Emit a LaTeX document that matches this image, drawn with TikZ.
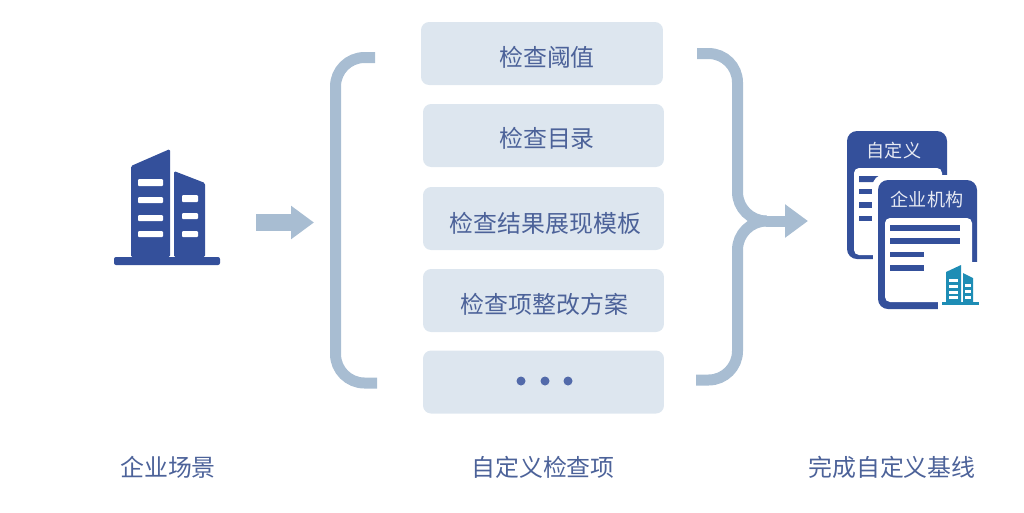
\documentclass[tikz,border=0pt]{standalone}
\usepackage{fontspec}
\setmainfont{Noto Sans CJK SC}
\usepackage{xcolor}
\usetikzlibrary{arrows.meta}
\definecolor{iconblue}{HTML}{34509B}
\definecolor{labelblue}{HTML}{4C6299}
\definecolor{boxblue}{HTML}{DDE6EF}
\definecolor{flowblue}{HTML}{A8BDD2}
\definecolor{tealblue}{HTML}{1E8DB5}
\tikzset{
    itembox/.style={draw=none,fill=boxblue,rounded corners=0.16cm,minimum width=4.84cm,minimum height=1.26cm,
        inner sep=0pt,text=labelblue,font=\fontsize{13.6}{16}\selectfont},
    caption/.style={inner sep=0pt,text=labelblue,font=\fontsize{13.6}{16}\selectfont},
    tabtext/.style={inner sep=0pt,text=white!88!iconblue,font=\fontsize{10.3}{12}\selectfont},
    dotmark/.style={circle,fill=iconblue!85!white,draw=none,minimum size=0.18cm,inner sep=0pt},
    flow/.style={draw=flowblue,line width=0.22cm,rounded corners=0.58cm},
    flowhead/.style={-{Triangle[length=0.46cm,width=0.64cm]}},
}
\newcommand{\itemtext}[3]{\hspace*{#1}\raisebox{#2}[\height][\depth]{#3}}
\begin{document}
\begin{tikzpicture}[x=0.02cm,y=-0.02cm]
    \useasboundingbox (0,0) rectangle (1024,512);

    % items
    \node [itembox,minimum width=4.84cm] (item1) at (542,53.5) {\itemtext{0.2cm}{-0.08cm}{检查阈值}};
    \node [itembox,minimum width=4.82cm] (item2) at (543.5,135.5) {\itemtext{0.14cm}{-0.06cm}{检查目录}};
    \node [itembox,minimum width=4.82cm] (item3) at (543.5,218.5) {\itemtext{0.08cm}{-0.1cm}{检查结果展现模板}};
    \node [itembox,minimum width=4.82cm] (item4) at (543.5,300.5) {\itemtext{0.04cm}{-0.08cm}{检查项整改方案}};
    \node [itembox,minimum width=4.82cm] (item5) at (543.5,382) {};
    \node [dotmark] (dot1) at (521,381) {};
    \node [dotmark] (dot2) at (545,381) {};
    \node [dotmark] (dot3) at (568,381) {};

    % captions
    \node [caption] (scene) at (168,467) {企业场景};
    \node [caption] (custom) at (543,467) {自定义检查项};
    \node [caption] (baseline) at (892,467) {完成自定义基线};

    % flow
    \coordinate (in1) at (256,222.5);
    \coordinate (in2) at (314,222.5);
    \draw [flowhead,draw=flowblue,fill=flowblue,line width=0.34cm] (in1) -- (in2);

    \coordinate (open1) at (375,57.5);
    \coordinate (open2) at (335.5,57.5);
    \coordinate (open3) at (335.5,383);
    \coordinate (open4) at (377,383);
    \draw [flow] (open1) -- (open2) -- (open3) -- (open4);

    \coordinate (close1) at (697,53.5);
    \coordinate (close2) at (737.5,53.5);
    \coordinate (close3) at (737.5,221);
    \coordinate (close4) at (737.5,380);
    \coordinate (close5) at (696,380);
    \coordinate (joint) at (766,221);
    \coordinate (out) at (808,221);
    \draw [flow] (close1) -- (close2) -- (close3) -- (joint);
    \draw [flow] (close5) -- (close4) -- (close3) -- (joint);
    \draw [flowhead,draw=flowblue,fill=flowblue,line width=0.22cm] (joint) -- (out);

    % big building
    \fill [iconblue,rounded corners=0.03cm] (131,257) -- (131,166) -- (170,149) -- (170,257) -- cycle;
    \fill [iconblue,rounded corners=0.03cm] (174,257) -- (174,171) -- (205,183) -- (205,257) -- cycle;
    \fill [iconblue,rounded corners=0.04cm] (114,257) rectangle (220,265);
    \fill [white,rounded corners=0.02cm] (138,179) rectangle (163,186);
    \fill [white,rounded corners=0.02cm] (138,197) rectangle (163,203);
    \fill [white,rounded corners=0.02cm] (138,215) rectangle (163,221);
    \fill [white,rounded corners=0.02cm] (138,231) rectangle (163,237);
    \fill [white,rounded corners=0.02cm] (182,195) rectangle (198,202);
    \fill [white,rounded corners=0.02cm] (182,213) rectangle (198,219);
    \fill [white,rounded corners=0.02cm] (182,231) rectangle (198,237);

    % back sheet
    \fill [iconblue,rounded corners=0.2cm] (847,131) rectangle (947,259);
    \fill [white,rounded corners=0.1cm] (854,168) rectangle (942,255);
    \fill [iconblue] (859,176) -- (880,176) -- (873,182) -- (859,182) -- cycle;
    \fill [iconblue] (859,189) rectangle (872,194);
    \fill [iconblue] (859,202) rectangle (872,208);
    \fill [iconblue] (859,216) rectangle (872,221);
    \node [tabtext] (tab1) at (894,151) {自定义};

    % front sheet
    \fill [white,rounded corners=0.2cm] (873,175) rectangle (990,315);
    \fill [iconblue,rounded corners=0.2cm] (878,180) rectangle (977,309);
    \fill [white,rounded corners=0.1cm] (885,218) rectangle (972,302);
    \fill [white] (938,262) rectangle (985,312);
    \fill [iconblue] (890,225) rectangle (960,231);
    \fill [iconblue] (890,238) rectangle (960,244);
    \fill [iconblue] (890,252) rectangle (924,257);
    \fill [iconblue] (890,265) rectangle (924,271);
    \node [tabtext] (tab2) at (927,200) {企业机构};

    % small building
    \fill [tealblue] (946,302) -- (946,272) -- (961,265) -- (961,302) -- cycle;
    \fill [tealblue] (963,302) -- (963,273) -- (973,278) -- (973,302) -- cycle;
    \fill [tealblue] (942,302) rectangle (979,304.5);
    \fill [white] (949,279) rectangle (958,282);
    \fill [white] (949,285) rectangle (958,288);
    \fill [white] (949,291) rectangle (958,294);
    \fill [white] (949,296) rectangle (958,299);
    \fill [white] (965,284) rectangle (971,287);
    \fill [white] (965,290) rectangle (971,293);
    \fill [white] (965,296) rectangle (971,299);
\end{tikzpicture}
\end{document}
